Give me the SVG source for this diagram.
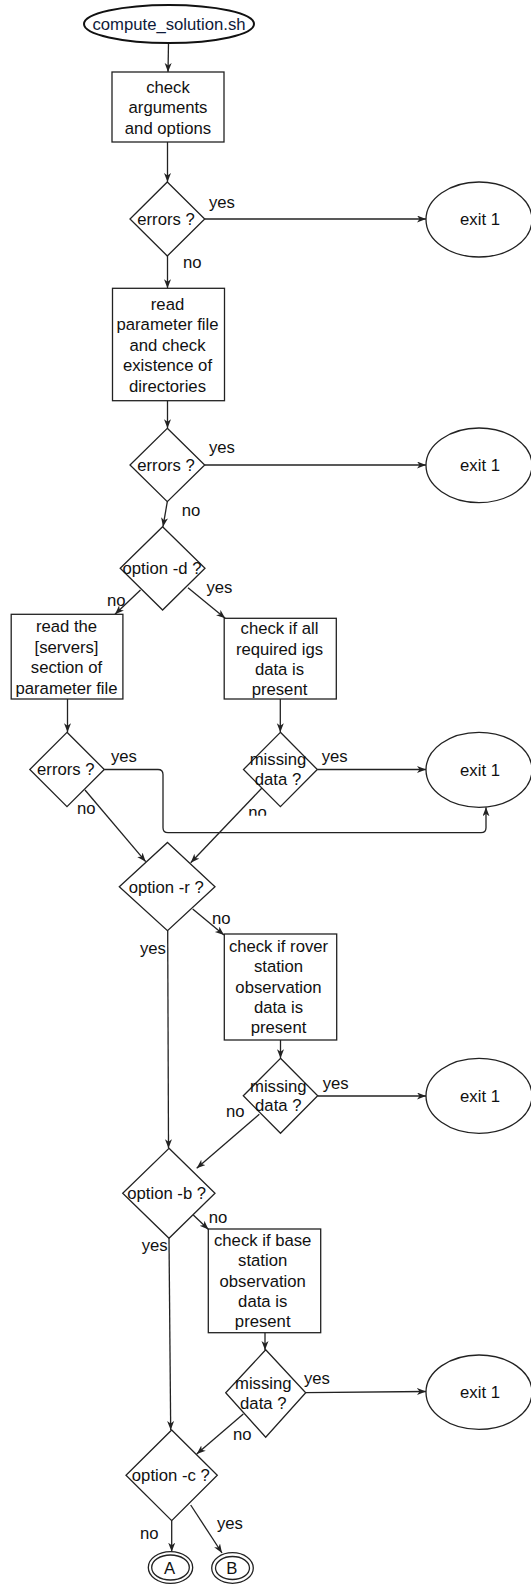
<svg xmlns="http://www.w3.org/2000/svg" width="531" height="1585" viewBox="0 0 531 1585">
<style>
text{font-family:"Liberation Sans",Arial,sans-serif;font-size:16.7px;fill:#111}
.c{text-anchor:middle}
.n{fill:#fff;stroke:#222;stroke-width:1.3}
.e{fill:none;stroke:#222;stroke-width:1.3;marker-end:url(#ah)}
.title{fill:#0e1a3a}
</style>
<defs>
<marker id="ah" markerUnits="userSpaceOnUse" markerWidth="10" markerHeight="8" refX="9" refY="3.5" orient="auto">
<path d="M0,0 L9,3.5 L0,7 L2.5,3.5 Z" fill="#222"/>
</marker>
<clipPath id="clipno"><rect x="240" y="800" width="40" height="15.7"/></clipPath>
</defs>
<rect width="531" height="1585" fill="#fff"/>

<g id="connectors">
<path class="e" d="M168.5,43 L168,72"/>
<path class="e" d="M167.5,142 L167.5,182"/>
<path class="e" d="M204.7,219 L426,219"/>
<path class="e" d="M167.5,256 L167.5,288.3"/>
<path class="e" d="M167.5,400.7 L167.5,428.3"/>
<path class="e" d="M204.7,465 L426,465"/>
<path class="e" d="M167.3,501.7 L163,526.7"/>
<path class="e" d="M140.5,590 L115,614.3"/>
<path class="e" d="M188,587.7 L225.2,618.3"/>
<path class="e" d="M67.5,699 L67.5,732.3"/>
<path class="e" d="M280.3,699 L280.3,732.3"/>
<path class="e" d="M104.3,769.5 H158 Q163,769.5 163,774.5 V827.7 Q163,832.7 168,832.7 H481 Q486,832.7 486,827.7 V807.3"/>
<path class="e" d="M317.3,769.5 L426,769.5"/>
<path class="e" d="M85,790 L145.7,861.7"/>
<path class="e" d="M261.7,788.3 L190.7,862.7"/>
<path class="e" d="M192.7,909 L224,935"/>
<path class="e" d="M167.7,930.7 L168.5,1148.3"/>
<path class="e" d="M280.5,1040 L280.5,1058.3"/>
<path class="e" d="M317.7,1096 L426,1096"/>
<path class="e" d="M259.3,1114.3 L196.7,1168.3"/>
<path class="e" d="M193.3,1215 L208.5,1229.5"/>
<path class="e" d="M169,1238.3 L170.7,1430"/>
<path class="e" d="M265,1332.7 L265,1350"/>
<path class="e" d="M305.7,1392.7 L426,1391.5"/>
<path class="e" d="M243.3,1414 L196.7,1454"/>
<path class="e" d="M171.7,1520.7 L171.7,1551.7"/>
<path class="e" d="M190.7,1505 L222,1553"/>
</g>

<g id="labels">
<text x="209" y="207.5">yes</text>
<text x="183" y="268">no</text>
<text x="209" y="453">yes</text>
<text x="181.7" y="516">no</text>
<text x="107" y="606">no</text>
<text x="206.5" y="593">yes</text>
<text x="111" y="762">yes</text>
<text x="321.7" y="762">yes</text>
<text x="77" y="813.5">no</text>
<text x="248.3" y="818" clip-path="url(#clipno)">no</text>
<text x="212" y="923.5">no</text>
<text x="140" y="953.5">yes</text>
<text x="322.7" y="1089">yes</text>
<text x="226" y="1117">no</text>
<text x="208.7" y="1222.5">no</text>
<text x="141.7" y="1250.8">yes</text>
<text x="304" y="1383.5">yes</text>
<text x="233" y="1439.5">no</text>
<text x="140" y="1538.5">no</text>
<text x="217" y="1529">yes</text>
</g>

<g id="start">
<ellipse cx="169" cy="24" rx="85" ry="19" fill="#fff" stroke="#111" stroke-width="2"/>
<text class="c title" x="169" y="29.5">compute_solution.sh</text>
</g>

<g id="check-args">
<rect class="n" x="112" y="72" width="112" height="70"/>
<text class="c" x="168"><tspan x="168" y="92.5">check</tspan><tspan x="168" y="113">arguments</tspan><tspan x="168" y="133.5">and options</tspan></text>
</g>

<g id="errors1">
<polygon class="n" points="167.3,182 204.7,219 167.3,256 130,219"/>
<text class="c" x="166" y="224.5">errors ?</text>
</g>

<g id="exit1a">
<ellipse class="n" cx="479" cy="219.5" rx="53" ry="37.5"/>
<text class="c" x="480" y="225">exit 1</text>
</g>

<g id="read-params">
<rect class="n" x="112.5" y="288.3" width="112" height="112.4"/>
<text class="c"><tspan x="167.5" y="309.5">read</tspan><tspan x="167.5" y="330">parameter file</tspan><tspan x="167.5" y="350.5">and check</tspan><tspan x="167.5" y="371">existence of</tspan><tspan x="167.5" y="391.5">directories</tspan></text>
</g>

<g id="errors2">
<polygon class="n" points="167.3,428.3 204.7,465 167.3,501.7 130,465"/>
<text class="c" x="166" y="470.5">errors ?</text>
</g>

<g id="exit1b">
<ellipse class="n" cx="479" cy="465.3" rx="53" ry="37.3"/>
<text class="c" x="480" y="471">exit 1</text>
</g>

<g id="option-d">
<polygon class="n" points="162.6,526.7 205,568.3 162.6,610 120.2,568.3"/>
<text class="c" x="162" y="573.5">option -d ?</text>
</g>

<g id="read-servers">
<rect class="n" x="11.2" y="614.3" width="111.7" height="84.7"/>
<text class="c"><tspan x="66.5" y="632">read the</tspan><tspan x="66.5" y="652.5">[servers]</tspan><tspan x="66.5" y="673">section of</tspan><tspan x="66.5" y="693.5">parameter file</tspan></text>
</g>

<g id="check-igs">
<rect class="n" x="224.2" y="618.3" width="112.1" height="80.7"/>
<text class="c"><tspan x="279.5" y="634">check if all</tspan><tspan x="279.5" y="654.5">required igs</tspan><tspan x="279.5" y="675">data is</tspan><tspan x="279.5" y="695">present</tspan></text>
</g>

<g id="errors3">
<polygon class="n" points="67,732.3 104.3,769.5 67,806.7 29.8,769.5"/>
<text class="c" x="65.8" y="775">errors ?</text>
</g>

<g id="missing1">
<polygon class="n" points="280.4,732.3 317.3,769.5 280.4,806.7 243.5,769.5"/>
<text class="c"><tspan x="278" y="764.8">missing</tspan><tspan x="278" y="784.8">data ?</tspan></text>
</g>

<g id="exit1c">
<ellipse class="n" cx="479" cy="769.8" rx="53" ry="37.5"/>
<text class="c" x="480" y="775.5">exit 1</text>
</g>

<g id="option-r">
<polygon class="n" points="167.5,842.5 215,886.7 167.5,930.7 119.3,886.7"/>
<text class="c" x="166.2" y="893">option -r ?</text>
</g>

<g id="check-rover">
<rect class="n" x="224.3" y="934" width="112.4" height="106"/>
<text class="c"><tspan x="278.5" y="951.5">check if rover</tspan><tspan x="278.5" y="972">station</tspan><tspan x="278.5" y="992.5">observation</tspan><tspan x="278.5" y="1012.8">data is</tspan><tspan x="278.5" y="1033">present</tspan></text>
</g>

<g id="missing2">
<polygon class="n" points="280.5,1058.3 317.7,1095.8 280.5,1133.3 243.3,1095.8"/>
<text class="c"><tspan x="278.3" y="1091.5">missing</tspan><tspan x="278.3" y="1111.2">data ?</tspan></text>
</g>

<g id="exit1d">
<ellipse class="n" cx="479" cy="1095.8" rx="53" ry="37.5"/>
<text class="c" x="480" y="1101.5">exit 1</text>
</g>

<g id="option-b">
<polygon class="n" points="169,1148.3 215,1193.3 169,1238.3 122.7,1193.3"/>
<text class="c" x="166.7" y="1198.8">option -b ?</text>
</g>

<g id="check-base">
<rect class="n" x="208.3" y="1229" width="112.4" height="103.7"/>
<text class="c"><tspan x="262.7" y="1245.5">check if base</tspan><tspan x="262.7" y="1266">station</tspan><tspan x="262.7" y="1286.5">observation</tspan><tspan x="262.7" y="1306.8">data is</tspan><tspan x="262.7" y="1327">present</tspan></text>
</g>

<g id="missing3">
<polygon class="n" points="265.7,1349.8 305.7,1392.7 265.7,1437.2 225.7,1392.7"/>
<text class="c"><tspan x="263.3" y="1388.8">missing</tspan><tspan x="263.3" y="1408.8">data ?</tspan></text>
</g>

<g id="exit1e">
<ellipse class="n" cx="479" cy="1392.2" rx="53" ry="37.2"/>
<text class="c" x="480" y="1398">exit 1</text>
</g>

<g id="option-c">
<polygon class="n" points="171.7,1430 217.3,1475.3 171.7,1520.7 126,1475.3"/>
<text class="c" x="170.8" y="1480.8">option -c ?</text>
</g>

<g id="conn-A">
<ellipse class="n" cx="170.5" cy="1567.5" rx="22.2" ry="15.8"/>
<ellipse class="n" cx="170.5" cy="1567.5" rx="18.8" ry="12.5"/>
<text class="c" x="169.5" y="1574.3">A</text>
</g>

<g id="conn-B">
<ellipse class="n" cx="232.5" cy="1568" rx="20.8" ry="15.3"/>
<ellipse class="n" cx="232.5" cy="1568" rx="17" ry="11.5"/>
<text class="c" x="231.7" y="1574.3">B</text>
</g>
</svg>
